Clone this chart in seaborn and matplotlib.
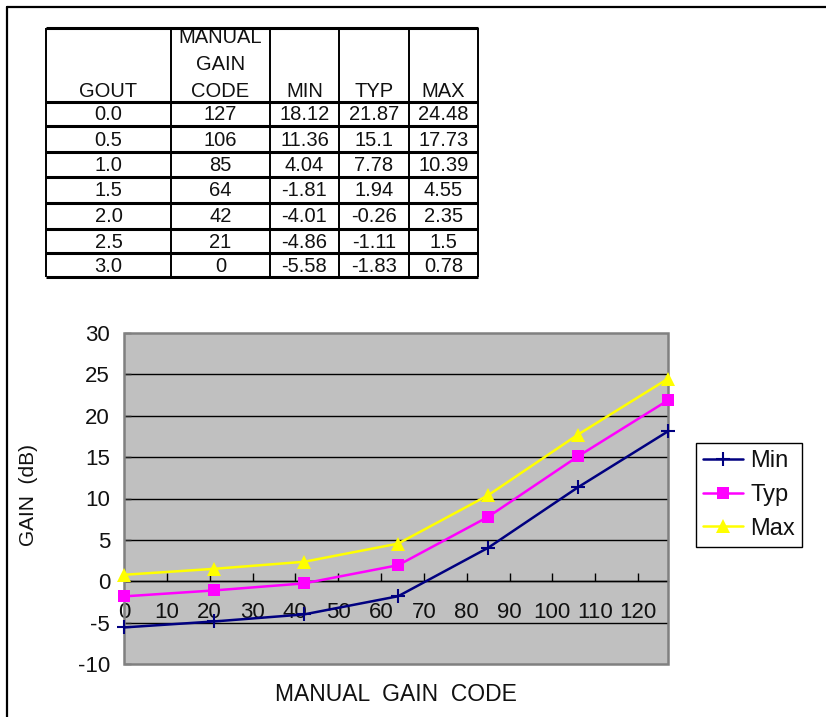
import matplotlib
matplotlib.use("Agg")
import matplotlib.pyplot as plt
import pandas as pd
import seaborn as sns
from matplotlib.patches import Rectangle

# ---- data -------------------------------------------------------------
gout = [0.0, 0.5, 1.0, 1.5, 2.0, 2.5, 3.0]
gain_code = [127, 106, 85, 64, 42, 21, 0]
gain_min = [18.12, 11.36, 4.04, -1.81, -4.01, -4.86, -5.58]
gain_typ = [21.87, 15.1, 7.78, 1.94, -0.26, -1.11, -1.83]
gain_max = [24.48, 17.73, 10.39, 4.55, 2.35, 1.5, 0.78]
series_names = ["Min", "Typ", "Max"]
table_header = [["GOUT"], ["MANUAL", "GAIN", "CODE"], ["MIN"], ["TYP"], ["MAX"]]
x_ticks = list(range(0, 121, 10))
y_ticks = list(range(-10, 31, 5))

# ---- style ------------------------------------------------------------
sns.set_theme(style="ticks")
plt.rcParams["font.family"] = ["Liberation Sans", "DejaVu Sans"]
plt.rcParams["axes.unicode_minus"] = False

W, H = 826, 717
fig = plt.figure(figsize=(W / 100, H / 100), dpi=100)
fig.patch.set_facecolor("white")

# pixel-space overlay for the frame and the table
bg = fig.add_axes([0, 0, 1, 1])
bg.set_xlim(0, W)
bg.set_ylim(H, 0)
bg.axis("off")

# outer frame (open to the right and bottom)
bg.plot([6.5, 6.5], [7, H], color="black", lw=1.6)
bg.plot([6.5, W], [7, 7], color="black", lw=1.6)

# ---- table --------------------------------------------------------------
col_edges = [46, 171, 270, 339, 409, 478]
row_edges = [28, 102, 126, 152, 177, 203, 229, 253, 277]

tfs = 14.5
for c, lines in enumerate(table_header):
    xc = (col_edges[c] + col_edges[c + 1]) / 2
    n = len(lines)
    for i, txt in enumerate(lines):
        bg.text(xc, 97 - (n - 1 - i) * 27, txt, ha="center", va="baseline",
                fontsize=tfs, color="#111111", zorder=1)

# white band above the table trims the top header line
bg.add_patch(Rectangle((col_edges[0], 8.5), col_edges[-1] - col_edges[0],
                       row_edges[0] + 2 - 8.5, fc="white", ec="none", zorder=2))

for y in row_edges:
    bg.plot([col_edges[0], col_edges[-1]], [y, y], color="black", lw=2.2,
            solid_capstyle="butt", zorder=3)
for x in col_edges:
    bg.plot([x, x], [row_edges[0], row_edges[-1]], color="black", lw=1.4,
            solid_capstyle="butt", zorder=3)

for r in range(len(gout)):
    cells = [f"{gout[r]:.1f}", f"{gain_code[r]}", f"{gain_min[r]:g}",
             f"{gain_typ[r]:g}", f"{gain_max[r]:g}"]
    yc = (row_edges[r + 1] + row_edges[r + 2]) / 2
    for c, txt in enumerate(cells):
        xc = (col_edges[c] + col_edges[c + 1]) / 2
        bg.text(xc, yc + 1, txt, ha="center", va="center", fontsize=tfs,
                color="#111111")

# ---- chart --------------------------------------------------------------
ax = fig.add_axes([124 / W, 1 - 664 / H, 544 / W, 331 / H])
ax.set_facecolor("#C0C0C0")

styles = {
    "Min": dict(color="#000080", marker="+", markersize=10,
                markeredgewidth=1.5, markeredgecolor="#000080"),
    "Typ": dict(color="#FF00FF", marker="s", markersize=9,
                markeredgewidth=0, markeredgecolor="#FF00FF"),
    "Max": dict(color="#FFFF00", marker="^", markersize=10,
                markeredgewidth=0, markeredgecolor="#FFFF00"),
}
series_vals = {"Min": gain_min, "Typ": gain_typ, "Max": gain_max}
for name in series_names:
    df = pd.DataFrame({"code": gain_code, "gain": series_vals[name]})
    sns.lineplot(data=df, x="code", y="gain", ax=ax, label=name,
                 linewidth=1.8, clip_on=False, zorder=5, **styles[name])

ax.set_xlim(0, 127)
ax.set_ylim(-10, 30)
ax.set_xticks(x_ticks)
ax.set_yticks(y_ticks)

# horizontal grid (inner lines only; the border covers the outer ones)
ax.grid(axis="y", color="black", lw=1.0)
ax.grid(axis="x", visible=False)
gl = ax.yaxis.get_gridlines()
gl[0].set_visible(False)
gl[-1].set_visible(False)
ax.set_axisbelow(True)

# x axis crosses at zero
for s in ["left", "right", "top"]:
    ax.spines[s].set_visible(False)
ax.spines["bottom"].set_position(("data", 0))
ax.spines["bottom"].set_color("black")
ax.spines["bottom"].set_linewidth(1.0)
ax.spines["bottom"].set_zorder(1)
ax.add_patch(Rectangle((0, 0), 1, 1, transform=ax.transAxes, fill=False,
                       ec="#808080", lw=1.8, clip_on=False, zorder=2))

ax.tick_params(axis="x", direction="in", length=6, width=1, color="black",
               pad=15, labelsize=16, labelcolor="#111111")
ax.tick_params(axis="y", direction="in", length=5, width=1, color="#222222",
               pad=10, labelsize=16, labelcolor="#111111")

ax.set_xlabel("MANUAL  GAIN  CODE", fontsize=16.5, color="#111111")
ax.xaxis.set_label_coords(0.5, -0.092)
ax.xaxis.label.set_va("center")
ax.set_ylabel("GAIN  (dB)", fontsize=15, color="#111111")
ax.yaxis.set_label_coords(-0.175, 0.51)
ax.yaxis.label.set_va("center")

handles, labels = ax.get_legend_handles_labels()
if ax.get_legend() is not None:
    ax.get_legend().remove()
leg = fig.legend(handles, labels, loc="upper left",
                 bbox_to_anchor=(696 / W, 1 - 443 / H), fontsize=17,
                 frameon=True, fancybox=False, edgecolor="black",
                 framealpha=1, borderpad=0.3, handlelength=1.7,
                 handletextpad=0.3, labelspacing=0.5, borderaxespad=0,
                 numpoints=1)
leg.get_frame().set_linewidth(1.0)
for t in leg.get_texts():
    t.set_color("#111111")

fig.savefig("out.png", dpi=100, facecolor="white")
